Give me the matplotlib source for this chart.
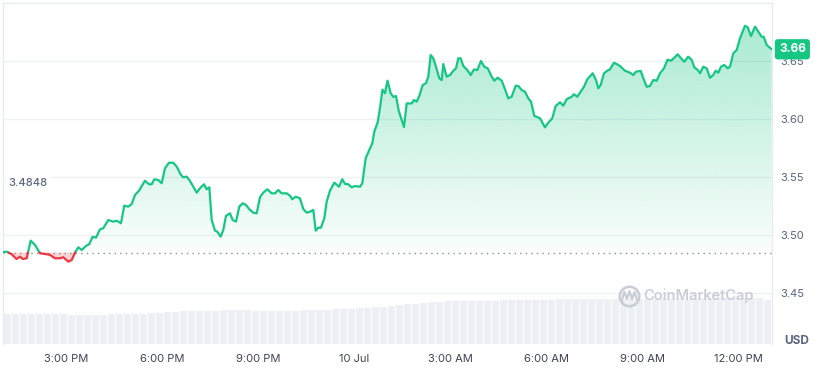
import numpy as np
import matplotlib
matplotlib.use("Agg")
import matplotlib.pyplot as plt
from matplotlib.path import Path

plt.rcParams['font.family'] = ['Inter', 'DejaVu Sans']

# ---------------- data ----------------
# time in hours since 9 Jul 00:00
times = [12.975, 13.131, 13.288, 13.438, 13.547, 13.631, 13.756, 13.881, 14.016, 14.172,
         14.381, 14.484, 14.641, 14.797, 14.900, 15.056, 15.163, 15.266, 15.369, 15.475,
         15.609, 15.713, 15.819, 15.922, 16.047, 16.150, 16.306, 16.463, 16.569, 16.703,
         16.806, 16.931, 17.038, 17.141, 17.266, 17.453, 17.578, 17.663, 17.744, 17.869,
         17.975, 18.078, 18.203, 18.338, 18.444, 18.578, 18.650, 18.756, 18.859, 18.963,
         19.069, 19.172, 19.297, 19.381, 19.463, 19.538, 19.641, 19.713, 19.819, 19.900,
         19.984, 20.109, 20.194, 20.297, 20.400, 20.506, 20.609, 20.713, 20.838, 20.944,
         21.047, 21.150, 21.275, 21.413, 21.516, 21.619, 21.725, 21.881, 21.984, 22.056,
         22.163, 22.297, 22.400, 22.506, 22.609, 22.713, 22.788, 22.869, 22.953, 23.056,
         23.131, 23.234, 23.369, 23.516, 23.619, 23.703, 23.806, 23.913, 24.016, 24.172,
         24.244, 24.350, 24.453, 24.556, 24.619, 24.725, 24.797, 24.875, 24.953, 25.031,
         25.131, 25.213, 25.297, 25.384, 25.475, 25.547, 25.631, 25.788, 25.859, 25.944,
         26.025, 26.131, 26.234, 26.306, 26.381, 26.463, 26.547, 26.650, 26.725, 26.775,
         26.881, 26.984, 27.088, 27.172, 27.244, 27.319, 27.400, 27.525, 27.631, 27.734,
         27.838, 27.953, 28.056, 28.163, 28.288, 28.369, 28.475, 28.600, 28.703, 28.806,
         28.913, 29.038, 29.119, 29.225, 29.328, 29.431, 29.516, 29.619, 29.725, 29.797,
         29.953, 30.056, 30.181, 30.288, 30.422, 30.525, 30.631, 30.788, 30.859, 30.963,
         31.069, 31.172, 31.275, 31.444, 31.547, 31.619, 31.694, 31.797, 31.900, 31.984,
         32.109, 32.213, 32.319, 32.453, 32.609, 32.713, 32.797, 32.944, 33.047, 33.131,
         33.234, 33.338, 33.444, 33.547, 33.672, 33.781, 33.891, 33.994, 34.100, 34.203,
         34.306, 34.431, 34.538, 34.619, 34.725, 34.797, 34.900, 35.006, 35.109, 35.213,
         35.288, 35.369, 35.453, 35.556, 35.663, 35.734, 35.838, 35.944, 36.047, 36.203,
         36.288, 36.391, 36.516, 36.619, 36.725, 36.788, 36.881, 37.038]

prices = [3.4851, 3.4856, 3.4834, 3.4793, 3.4813, 3.4793, 3.4799, 3.4951, 3.4914, 3.4842,
          3.4834, 3.4828, 3.4799, 3.4799, 3.4808, 3.4770, 3.4784, 3.4847, 3.4894, 3.4871,
          3.4905, 3.4922, 3.4985, 3.4977, 3.5049, 3.5058, 3.5129, 3.5115, 3.5123, 3.5101,
          3.5253, 3.5244, 3.5267, 3.5345, 3.5382, 3.5468, 3.5437, 3.5437, 3.5480, 3.5474,
          3.5446, 3.5575, 3.5623, 3.5623, 3.5589, 3.5517, 3.5497, 3.5503, 3.5466, 3.5416,
          3.5365, 3.5403, 3.5437, 3.5394, 3.5411, 3.5129, 3.5037, 3.5028, 3.4985, 3.5043,
          3.5164, 3.5187, 3.5129, 3.5115, 3.5244, 3.5273, 3.5259, 3.5222, 3.5192, 3.5187,
          3.5325, 3.5365, 3.5394, 3.5359, 3.5359, 3.5388, 3.5359, 3.5359, 3.5339, 3.5308,
          3.5330, 3.5316, 3.5224, 3.5192, 3.5201, 3.5216, 3.5037, 3.5063, 3.5063, 3.5144,
          3.5287, 3.5382, 3.5451, 3.5416, 3.5480, 3.5440, 3.5437, 3.5411, 3.5422, 3.5416,
          3.5446, 3.5661, 3.5727, 3.5790, 3.5890, 3.5972, 3.6095, 3.6253, 3.6222, 3.6330,
          3.6222, 3.6190, 3.6198, 3.6069, 3.5991, 3.5931, 3.6134, 3.6134, 3.6164, 3.6149,
          3.6198, 3.6293, 3.6308, 3.6365, 3.6552, 3.6523, 3.6451, 3.6351, 3.6336, 3.6474,
          3.6365, 3.6379, 3.6416, 3.6437, 3.6523, 3.6523, 3.6457, 3.6422, 3.6379, 3.6428,
          3.6422, 3.6500, 3.6451, 3.6437, 3.6365, 3.6330, 3.6356, 3.6330, 3.6256, 3.6178,
          3.6192, 3.6287, 3.6284, 3.6250, 3.6235, 3.6178, 3.6149, 3.6026, 3.6015, 3.6006,
          3.5928, 3.5968, 3.6006, 3.6112, 3.6144, 3.6115, 3.6170, 3.6192, 3.6213, 3.6192,
          3.6235, 3.6278, 3.6342, 3.6394, 3.6336, 3.6265, 3.6293, 3.6394, 3.6416, 3.6428,
          3.6485, 3.6471, 3.6451, 3.6416, 3.6399, 3.6379, 3.6408, 3.6414, 3.6336, 3.6278,
          3.6284, 3.6336, 3.6330, 3.6394, 3.6437, 3.6511, 3.6503, 3.6528, 3.6558, 3.6523,
          3.6494, 3.6537, 3.6509, 3.6446, 3.6422, 3.6394, 3.6451, 3.6437, 3.6356, 3.6379,
          3.6416, 3.6399, 3.6451, 3.6466, 3.6437, 3.6451, 3.6566, 3.6595, 3.6696, 3.6804,
          3.6790, 3.6715, 3.6796, 3.6753, 3.6709, 3.6709, 3.6638, 3.6601]

baseline = 3.4848
baseline_label = "3.4848"
last_label = "3.66"

vol_start = 13.02     # first 15-minute volume bucket (hours since 9 Jul 00:00)
vol_step = 0.25
volumes = [91.5, 91.5, 90, 91.5, 90, 90, 91.5, 90,
           88.5, 88.5, 88.5, 88.5, 88.5,
           90, 90, 90, 90,
           91.5, 93, 94.5, 96,
           97.5, 99, 99, 99, 100.5, 100.5,
           102, 102, 102, 102, 100.5, 100.5, 100.5, 100.5, 100.5, 100.5,
           102, 102, 103.5, 103.5, 105, 105,
           106.5, 108, 108, 111, 112.5, 115.5, 118.5, 120,
           121.5, 124.5, 126, 127.5, 129, 129, 129,
           130.5, 130.5, 130.5, 130.5, 132, 132, 132, 132,
           133.5, 133.5, 133.5, 135, 135, 135, 135, 135, 135, 135,
           135, 135, 135, 135, 135, 135, 135, 136.5, 136.5, 136.5, 136.5, 138,
           138, 138, 138, 139.5, 139.5, 139.5, 139.5, 132]

x_ticks = [15, 18, 21, 24, 27, 30, 33, 36]
x_labels = ["3:00 PM", "6:00 PM", "9:00 PM", "10 Jul", "3:00 AM", "6:00 AM", "9:00 AM", "12:00 PM"]
y_ticks = [3.45, 3.50, 3.55, 3.60, 3.65]

GREEN = "#16c784"
RED = "#ea3943"
GRID = "#eff1f4"
TXT = "#58667e"

t = np.array(times)
p = np.array(prices)

# ---------------- figure ----------------
W, H = 819, 368
fig = plt.figure(figsize=(W / 100, H / 100), dpi=100)
rect = [3 / W, 24 / H, 769 / W, 341 / H]
XLIM = (13.016, 37.047)
YLIM = (3.406, 3.70)

axv = fig.add_axes(rect, zorder=0)
ax = fig.add_axes(rect, zorder=1)
ax.patch.set_alpha(0)

# volume bars
vt = vol_start + vol_step * (np.arange(len(volumes)) + 0.5)
axv.bar(vt, volumes, width=vol_step * 0.86, color="#eceff3", edgecolor="none")
axv.set_xlim(*XLIM)
axv.set_ylim(0, 1023)
axv.axis("off")

# gridlines
for yv in y_ticks:
    ax.axhline(yv, color=GRID, lw=1.0, zorder=0)

# gradient fill above baseline
poly = ax.fill_between(t, p, baseline, where=p >= baseline, interpolate=True,
                       facecolor="none", edgecolor="none")
grad = np.zeros((256, 2, 4))
rgb = matplotlib.colors.to_rgb(GREEN)
grad[:, :, 0], grad[:, :, 1], grad[:, :, 2] = rgb
alpha = np.linspace(0.40, 0.02, 256)
grad[:, :, 3] = alpha[:, None]
im = ax.imshow(grad, extent=[XLIM[0], XLIM[1], baseline, YLIM[1]], origin="upper",
               aspect="auto", zorder=1, interpolation="bilinear")
paths = poly.get_paths()
if paths:
    cp = Path.make_compound_path(*paths)
    im.set_clip_path(cp, ax.transData)

# red fill below baseline
ax.fill_between(t, p, baseline, where=p <= baseline, interpolate=True,
                facecolor=RED, alpha=0.22, edgecolor="none", zorder=1)

# baseline dotted
ax.axhline(baseline, color="#8a8f98", lw=1.0, ls=(0, (1, 3)), zorder=2)

# line with colour split at baseline
xs, ys = [t[0]], [p[0]]
for i in range(len(t) - 1):
    a, b = p[i] - baseline, p[i + 1] - baseline
    if a * b < 0:
        f = a / (a - b)
        xs.append(t[i] + f * (t[i + 1] - t[i]))
        ys.append(baseline)
    xs.append(t[i + 1])
    ys.append(p[i + 1])
xs, ys = np.array(xs), np.array(ys)
eps = 1e-9
g = np.where(ys >= baseline - eps, ys, np.nan)
r = np.where(ys <= baseline + eps, ys, np.nan)
ax.plot(xs, g, color=GREEN, lw=1.6, solid_joinstyle="round", solid_capstyle="round", zorder=3)
ax.plot(xs, r, color=RED, lw=1.6, solid_joinstyle="round", solid_capstyle="round", zorder=3)

ax.set_xlim(*XLIM)
ax.set_ylim(*YLIM)

# spines
for s in ["top", "right", "left"]:
    ax.spines[s].set_color("#e9ebee")
    ax.spines[s].set_linewidth(1.0)
ax.spines["bottom"].set_visible(False)

ax.set_xticks(x_ticks)
ax.set_xticklabels(x_labels)
ax.yaxis.tick_right()
ax.set_yticks(y_ticks)
ax.set_yticklabels([f"{v:.2f}" for v in y_ticks])
ax.tick_params(axis="x", length=0, pad=7, labelsize=8, labelcolor="#3d4350")
ax.tick_params(axis="y", length=0, pad=6, labelsize=8, labelcolor=TXT)

# baseline label
ax.text((8 - 3) / 769, (344 - 183) / 341, baseline_label, transform=ax.transAxes,
        ha="left", va="center", fontsize=8, color=TXT, fontweight="medium",
        bbox=dict(boxstyle="square,pad=0.3", fc="white", ec="none"), zorder=5)

# current price label
ax.annotate(last_label, xy=(1.0, p[-1]), xycoords=("axes fraction", "data"),
            xytext=(5, 0), textcoords="offset points", ha="left", va="center",
            fontsize=8.5, color="white", fontweight="bold",
            bbox=dict(boxstyle="round,pad=0.35,rounding_size=0.25", fc=GREEN, ec="none"),
            annotation_clip=False, zorder=6)

# USD
fig.text(797 / W, 1 - 341 / H, "USD", ha="center", va="center", fontsize=8.5,
         fontweight="bold", color="#58667e")

# watermark
wm = "#c9ced6"
cx, cy = (629 - 3) / 769, (344 - 296) / 341
ax.plot([cx], [cy], "o", ms=14, mfc="none", mec=wm, mew=1.9, transform=ax.transAxes, zorder=2)
zx = np.array([621.5, 624.5, 627, 629.5, 632, 634.5, 637])
zy = np.array([301, 292, 299, 291, 299, 292, 300])
ax.plot((zx - 3) / 769, (344 - zy) / 341, color=wm, lw=1.6, transform=ax.transAxes, zorder=2)
ax.text((643 - 3) / 769, cy, "CoinMarketCap", transform=ax.transAxes, ha="left", va="center",
        fontsize=10.5, color=wm, fontweight="semibold", zorder=2)

fig.savefig("out.png", dpi=100)
